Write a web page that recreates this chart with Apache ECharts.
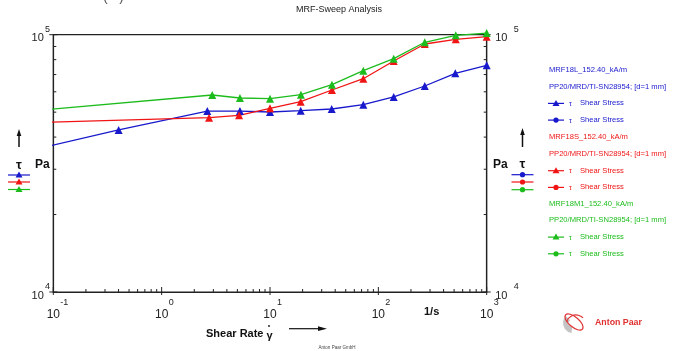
<!DOCTYPE html>
<html>
<head>
<meta charset="utf-8">
<script src="https://cdn.jsdelivr.net/npm/echarts@6/dist/echarts.min.js"></script>
<style>html,body{margin:0;padding:0;background:#fff}#c{width:678px;height:351px}</style>
</head>
<body>
<div id="c"></div>
<script>
// ---- data ----
const blueX  = [0.0857, 0.401, 2.64, 5.28, 10, 19.2, 37.1, 72.6, 138.6, 268, 513, 1000];
const blueY  = [36710, 42650, 50500, 50500, 50080, 50660, 51440, 53450, 57270, 63180, 70790, 76030];
const redX   = [0.0857, 2.74, 5.18, 10, 19.2, 37.3, 72.6, 138.6, 268, 518, 1000];
const redY   = [45640, 47580, 48610, 51760, 54900, 60970, 67450, 79040, 92000, 95960, 98220];
const greenX = [0.0857, 2.93, 5.28, 10, 19.3, 37.3, 72.6, 138.6, 268, 518, 1000];
const greenY = [51110, 58290, 56750, 56400, 58460, 63930, 72450, 80700, 93430, 99470, 101500];

const seriesNames = ['MRF18L_152.40_kA/m', 'MRF18S_152.40_kA/m', 'MRF18M1_152.40_kA/m'];
const geometryText = 'PP20/MRD/TI-SN28954; [d=1 mm]';
const itemText = 'Shear Stress';

const xMajor = [0.1, 1, 10, 100, 1000];
const yMajor = [10000, 100000];
const xDecades = [0.1, 1, 10, 100];
const yDecades = [10000];
const minorMult = [2, 3, 4, 5, 6, 7, 8, 9];
const tickBase = '10';

const xMin = 0.1, xMax = 1000, yMin = 10000, yMax = 100000;

const C_BLUE = '#1818cc', C_RED = '#f01414', C_GREEN = '#1cbc1c', C_AX = '#222';
const FF = '"Liberation Sans", Arial, sans-serif';

function pairs(xs, ys) {
  return xs.map((x, i) => i === 0 ? { value: [x, ys[i]], symbol: 'none' } : [x, ys[i]]);
}
const xMinor = [];
xDecades.forEach(d => minorMult.forEach(m => xMinor.push(d * m)));
const yMinor = [];
yDecades.forEach(d => minorMult.forEach(m => yMinor.push(d * m)));

function lineSeries(name, color, xs, ys) {
  return {
    name, type: 'line', xAxisIndex: 0, yAxisIndex: 0,
    data: pairs(xs, ys), clip: false, symbol: 'triangle', symbolSize: 8,
    lineStyle: { color, width: 1.3 }, itemStyle: { color },
    emphasis: { disabled: true }, animation: false, z: 5
  };
}

function tickSeries(kind, values) {
  return {
    type: 'custom', xAxisIndex: 0, yAxisIndex: 0, clip: false, silent: true, animation: false, z: 4,
    data: values.map(v => kind[0] === 'x' ? [v, yMin] : [xMin, v]),
    renderItem: function (params, api) {
      const v = api.value(kind[0] === 'x' ? 0 : 1);
      const st = { stroke: C_AX, lineWidth: 1 };
      if (kind === 'xminor') {
        const p = api.coord([v, yMin]);
        return { type: 'line', shape: { x1: p[0], y1: p[1], x2: p[0], y2: p[1] - 3 }, style: st };
      }
      if (kind === 'xmajor') {
        const p = api.coord([v, yMin]);
        return { type: 'line', shape: { x1: p[0], y1: p[1] + 3, x2: p[0], y2: p[1] - 5 }, style: st };
      }
      const pl = api.coord([xMin, v]);
      const pr = api.coord([xMax, v]);
      if (kind === 'yminor') {
        return { type: 'group', children: [
          { type: 'line', shape: { x1: pl[0], y1: pl[1], x2: pl[0] + 3, y2: pl[1] }, style: st },
          { type: 'line', shape: { x1: pr[0], y1: pr[1], x2: pr[0] - 3, y2: pr[1] }, style: st }
        ] };
      }
      return { type: 'group', children: [
        { type: 'line', shape: { x1: pl[0] - 4, y1: pl[1], x2: pl[0] + 4, y2: pl[1] }, style: st },
        { type: 'line', shape: { x1: pr[0] - 4, y1: pr[1], x2: pr[0] + 4, y2: pr[1] }, style: st }
      ] };
    }
  };
}

const expOf = v => String(Math.round(Math.log10(v)));

function logAxisBase(min, max, extra) {
  return Object.assign({
    type: 'log', logBase: 10, min, max,
    axisLine: { show: false }, axisTick: { show: false }, minorTick: { show: false }, splitLine: { show: false }
  }, extra);
}

// ---- graphics (text & legend decorations) ----
const g = [];
function txt(x, y, text, o) {
  g.push({ type: 'text', x, y, silent: true, style: Object.assign({ text, fontFamily: FF, fill: '#222', fontSize: 8, align: 'left', verticalAlign: 'middle' }, o || {}) });
}
function arrowUp(x, y1, y2) {
  g.push({ type: 'line', silent: true, shape: { x1: x, y1: y1, x2: x, y2: y2 + 5 }, style: { stroke: '#111', lineWidth: 1.5 } });
  g.push({ type: 'polygon', silent: true, shape: { points: [[x, y2], [x - 2.3, y2 + 7], [x + 2.3, y2 + 7]] }, style: { fill: '#111' } });
}
function legendMark(x1, x2, y, color, sym) {
  g.push({ type: 'line', silent: true, shape: { x1, y1: y, x2, y2: y }, style: { stroke: color, lineWidth: 1.2 } });
  const cx = (x1 + x2) / 2;
  if (sym === 'tri') {
    g.push({ type: 'polygon', silent: true, shape: { points: [[cx, y - 3.5], [cx - 3.5, y + 2.5], [cx + 3.5, y + 2.5]] }, style: { fill: color } });
  } else {
    g.push({ type: 'circle', silent: true, shape: { cx, cy: y, r: 2.6 }, style: { fill: color } });
  }
}

txt(339, 10, 'MRF-Sweep Analysis', { fontSize: 9, align: 'center' });
txt(103, 4, '(   )', { fontSize: 14, verticalAlign: 'bottom', fill: '#555' });

// left small legend
arrowUp(19, 147, 129);
txt(19, 165, 'τ', { fontSize: 13, fontWeight: 'bold', align: 'center', fill: '#111' });
txt(35, 165, 'Pa', { fontSize: 12, fontWeight: 'bold', fill: '#111' });
legendMark(8, 30, 175, C_BLUE, 'tri');
legendMark(8, 30, 182, C_RED, 'tri');
legendMark(8, 30, 189.5, C_GREEN, 'tri');

// right small legend
arrowUp(522.5, 147, 128);
txt(522.5, 164.5, 'τ', { fontSize: 13, fontWeight: 'bold', align: 'center', fill: '#111' });
txt(493, 164.5, 'Pa', { fontSize: 12, fontWeight: 'bold', fill: '#111' });
legendMark(511.5, 533.5, 174.7, C_BLUE, 'dot');
legendMark(511.5, 533.5, 182, C_RED, 'dot');
legendMark(511.5, 533.5, 189.7, C_GREEN, 'dot');

// main legend block
const legColors = [C_BLUE, C_RED, C_GREEN];
const legTop = [70, 137.3, 203.7];
legColors.forEach((col, i) => {
  const y0 = legTop[i];
  txt(549, y0, seriesNames[i], { fontSize: 7.6, fill: col });
  txt(549, y0 + 16.7, geometryText, { fontSize: 7.6, fill: col });
  legendMark(548, 564, y0 + 33.4, col, 'tri');
  txt(569, y0 + 34, 'τ', { fontSize: 7, fill: col });
  txt(580, y0 + 33.4, itemText, { fontSize: 7.6, fill: col });
  legendMark(548, 564, y0 + 50.1, col, 'dot');
  txt(569, y0 + 50.7, 'τ', { fontSize: 7, fill: col });
  txt(580, y0 + 50.1, itemText, { fontSize: 7.6, fill: col });
});

// bottom texts
txt(424, 312, '1/s', { fontSize: 11, fontWeight: 'bold', fill: '#111' });
txt(206, 333.5, 'Shear Rate', { fontSize: 11, fontWeight: 'bold', fill: '#111' });
txt(266.5, 335.5, 'γ', { fontSize: 11, fontWeight: 'bold', fill: '#111' });
g.push({ type: 'circle', silent: true, shape: { cx: 269, cy: 326, r: 0.9 }, style: { fill: '#111' } });
g.push({ type: 'line', silent: true, shape: { x1: 289, y1: 328.7, x2: 320, y2: 328.7 }, style: { stroke: '#111', lineWidth: 1.2 } });
g.push({ type: 'polygon', silent: true, shape: { points: [[327, 328.7], [318, 326.3], [318, 331.1]] }, style: { fill: '#111' } });
txt(337, 348, 'Anton Paar GmbH', { fontSize: 4.5, align: 'center', fill: '#444' });

// logo
g.push({ type: 'sector', silent: true, shape: { cx: 573, cy: 323, r: 10, r0: 4, startAngle: Math.PI * 0.55, endAngle: Math.PI * 1.25 }, style: { fill: '#c4c4c4' } });
g.push({ type: 'ellipse', silent: true, x: 574, y: 322, rotation: -0.7, shape: { cx: 0, cy: 0, rx: 11, ry: 5 }, style: { fill: 'none', stroke: '#e03535', lineWidth: 1.2 } });
g.push({ type: 'arc', silent: true, shape: { cx: 576, cy: 325, r: 10, startAngle: Math.PI * 1.1, endAngle: Math.PI * 1.75 }, style: { fill: 'none', stroke: '#e03535', lineWidth: 1.2 } });
txt(595, 322.5, 'Anton Paar', { fontSize: 8.8, fontWeight: 'bold', fill: '#e03030' });

const lblBase = { fontFamily: FF, color: '#222' };

const chart = echarts.init(document.getElementById('c'), null, { renderer: 'canvas' });
chart.setOption({
  animation: false,
  backgroundColor: '#fff',
  grid: { left: 53.3, right: 191.3, top: 34.7, bottom: 59, show: true, borderColor: C_AX, borderWidth: 1.2, backgroundColor: 'transparent' },
  xAxis: [
    logAxisBase(xMin, xMax, {
      axisLine: { show: true, lineStyle: { color: C_AX, width: 1.2 } },
      axisLabel: Object.assign({ fontSize: 12, margin: 17, formatter: () => tickBase }, lblBase)
    }),
    logAxisBase(xMin, xMax, {
      position: 'bottom',
      axisLabel: Object.assign({ fontSize: 9, margin: 6, align: 'left', padding: [0, 0, 0, 7], formatter: expOf }, lblBase)
    })
  ],
  yAxis: [
    logAxisBase(yMin, yMax, {
      position: 'left',
      axisLine: { show: true, lineStyle: { color: C_AX, width: 1.2 } },
      axisLabel: Object.assign({ fontSize: 11, margin: 9.5, verticalAlign: 'top', lineHeight: 7, formatter: () => tickBase }, lblBase)
    }),
    logAxisBase(yMin, yMax, {
      position: 'right',
      axisLine: { show: true, lineStyle: { color: C_AX, width: 1.2 } },
      axisLabel: Object.assign({ fontSize: 11, margin: 8.5, verticalAlign: 'top', lineHeight: 7, formatter: () => tickBase }, lblBase)
    }),
    logAxisBase(yMin, yMax, {
      position: 'left',
      axisLabel: Object.assign({ fontSize: 9, margin: 3.3, verticalAlign: 'bottom', lineHeight: 11, formatter: expOf }, lblBase)
    }),
    logAxisBase(yMin, yMax, {
      position: 'right',
      axisLabel: Object.assign({ fontSize: 9, margin: 27, verticalAlign: 'bottom', lineHeight: 11, formatter: expOf }, lblBase)
    })
  ],
  series: [
    tickSeries('xminor', xMinor),
    tickSeries('xmajor', xMajor),
    tickSeries('yminor', yMinor),
    tickSeries('ymajor', yMajor),
    lineSeries(seriesNames[0], C_BLUE, blueX, blueY),
    lineSeries(seriesNames[1], C_RED, redX, redY),
    lineSeries(seriesNames[2], C_GREEN, greenX, greenY)
  ],
  graphic: g
});
</script>
</body>
</html>
